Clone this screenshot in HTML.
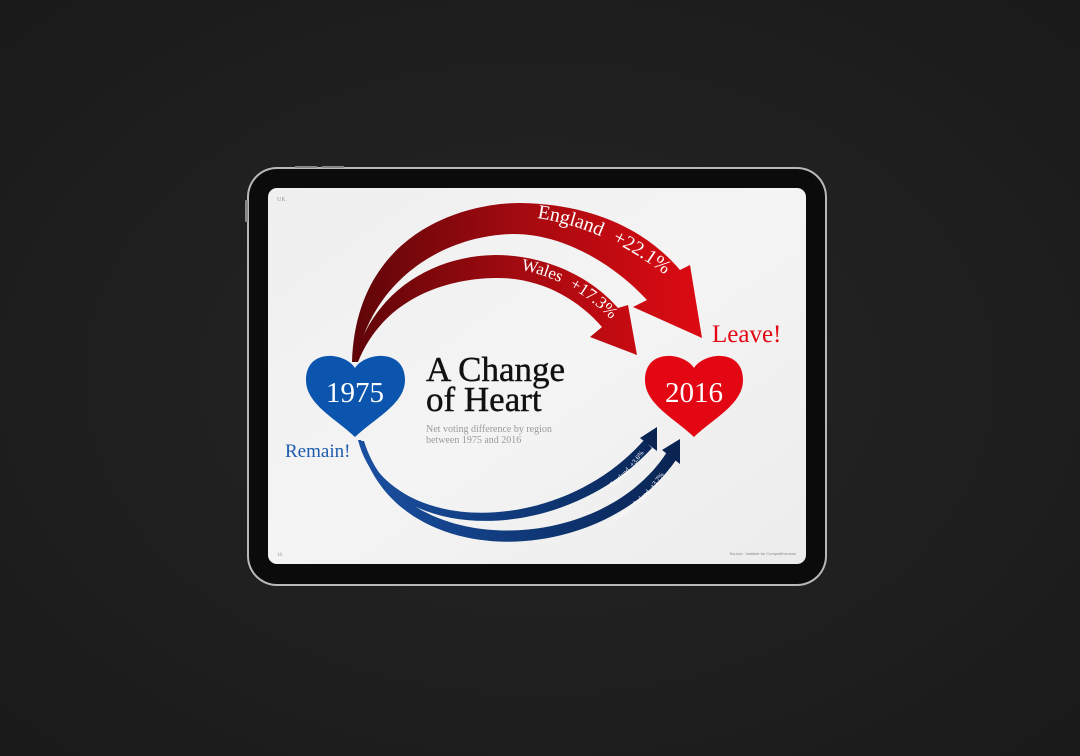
<!DOCTYPE html>
<html><head><meta charset="utf-8">
<style>
html,body{margin:0;padding:0;width:1080px;height:756px;overflow:hidden;background:#1f1f1f}
svg{display:block}
</style></head>
<body>
<svg width="1080" height="756" viewBox="0 0 1080 756" xmlns="http://www.w3.org/2000/svg">
<defs>
<radialGradient id="bg" cx="50%" cy="50%" r="70%">
<stop offset="0" stop-color="#262626"/><stop offset="1" stop-color="#1a1a1a"/>
</radialGradient>
<linearGradient id="red" x1="350" y1="0" x2="700" y2="0" gradientUnits="userSpaceOnUse">
<stop offset="0" stop-color="#5e0508"/><stop offset="0.5" stop-color="#a50a10"/><stop offset="1" stop-color="#dd0a12"/>
</linearGradient>
<linearGradient id="blue" x1="360" y1="0" x2="680" y2="0" gradientUnits="userSpaceOnUse">
<stop offset="0" stop-color="#1a4fa0"/><stop offset="0.6" stop-color="#0e3572"/><stop offset="1" stop-color="#0a2452"/>
</linearGradient>
<linearGradient id="scr" x1="0" y1="0" x2="1" y2="1">
<stop offset="0" stop-color="#efefef"/><stop offset="0.5" stop-color="#f4f4f4"/><stop offset="1" stop-color="#ececec"/>
</linearGradient>
<path id="engT" d="M537,218 C 590,226 640,250 690,296"/>
<path id="walT" d="M521,270 C 560,277 595,298 625,335"/>
<path id="scoT" d="M612,487 C 628,474 638,462 648,447"/>
<path id="niT" d="M614,522 C 640,505 660,485 671,462"/>
</defs>
<rect width="1080" height="756" fill="url(#bg)"/>
<!-- tablet -->
<rect x="247" y="167" width="580" height="419" rx="30" fill="#b8b8b8"/>
<rect x="249" y="169" width="576" height="415" rx="28" fill="#0b0b0b"/>
<rect x="268" y="188" width="538" height="376" rx="9" fill="url(#scr)"/>
<rect x="245" y="200" width="3" height="22" rx="1" fill="#888"/>
<rect x="295" y="166" width="22" height="2" fill="#888"/>
<rect x="322" y="166" width="22" height="2" fill="#888"/>

<text x="277" y="201" font-family="Liberation Serif, serif" font-size="6" fill="#999">UK</text>
<text x="277" y="556" font-family="Liberation Serif, serif" font-size="5" fill="#999">18</text>
<text x="796" y="555" font-family="Liberation Sans, sans-serif" font-size="4" fill="#888" text-anchor="end">Source : Institute for Competitiveness</text>

<!-- red arrows -->
<path d="M352,362 C 356,235 460,203 520,203 C 595,204 648,232 680,270 L 690,265 L 702,338 L 633,307 L 647,300 C 612,262 560,233 512,234 C 440,236 372,282 356,362 Z" fill="url(#red)"/>
<path d="M354,362 C 372,292 432,256 495,255 C 550,255 594,280 618,308 L 628,305 L 637,355 L 590,337 L 602,327 C 578,299 540,277 495,278 C 440,279 382,302 358,362 Z" fill="url(#red)"/>
<text font-family="Liberation Serif, serif" font-size="20" fill="#fff"><textPath href="#engT">England<tspan dx="12">+22.1%</tspan></textPath></text>
<text font-family="Liberation Serif, serif" font-size="17" fill="#fff"><textPath href="#walT">Wales<tspan dx="10">+17.3%</tspan></textPath></text>

<!-- blue arrows -->
<path d="M358,440 C 385,545 560,548 652,448 L 644,440 C 560,536 392,538 361,440 Z" fill="url(#blue)"/>
<path d="M360,441 C 393,574 600,570 676,460 L 667,452 C 600,557 400,560 364,441 Z" fill="url(#blue)"/>
<polygon points="640,438 657,427 657,451" fill="#0a2452"/>
<polygon points="662,450 680,439 680,464" fill="#0a2452"/>
<text font-family="Liberation Serif, serif" font-size="7" fill="#fff"><textPath href="#scoT">Scotland<tspan dx="4">+3.6%</tspan></textPath></text>
<text font-family="Liberation Serif, serif" font-size="7" fill="#fff"><textPath href="#niT">Northern Ireland<tspan dx="4">+3.7%</tspan></textPath></text>

<!-- hearts -->
<path d="M355,368 C 345,352 306,348 306,380 C 306,404 335,418 355,437 C 375,418 405,404 405,380 C 405,348 365,352 355,368 Z" fill="#0b55ae"/>
<path d="M694,368 C 684,352 645,348 645,380 C 645,404 674,418 694,437 C 714,418 743,404 743,380 C 743,348 704,352 694,368 Z" fill="#e30613"/>
<text x="355" y="402" font-family="Liberation Serif, serif" font-size="29" fill="#fff" text-anchor="middle">1975</text>
<text x="694" y="402" font-family="Liberation Serif, serif" font-size="29" fill="#fff" text-anchor="middle">2016</text>

<text x="285" y="457" font-family="Liberation Serif, serif" font-size="19" fill="#1e5bb0">Remain!</text>
<text x="712" y="342" font-family="Liberation Serif, serif" font-size="25" fill="#e30613">Leave!</text>

<text x="426" y="381" font-family="Liberation Serif, serif" font-size="35" fill="#111" stroke="#111" stroke-width="0.4">A Change</text>
<text x="426" y="411" font-family="Liberation Serif, serif" font-size="35" fill="#111" stroke="#111" stroke-width="0.4">of Heart</text>
<text x="426" y="432" font-family="Liberation Serif, serif" font-size="10" fill="#9a9a9a">Net voting difference by region</text>
<text x="426" y="443" font-family="Liberation Serif, serif" font-size="10" fill="#9a9a9a">between 1975 and 2016</text>
</svg>
</body></html>
